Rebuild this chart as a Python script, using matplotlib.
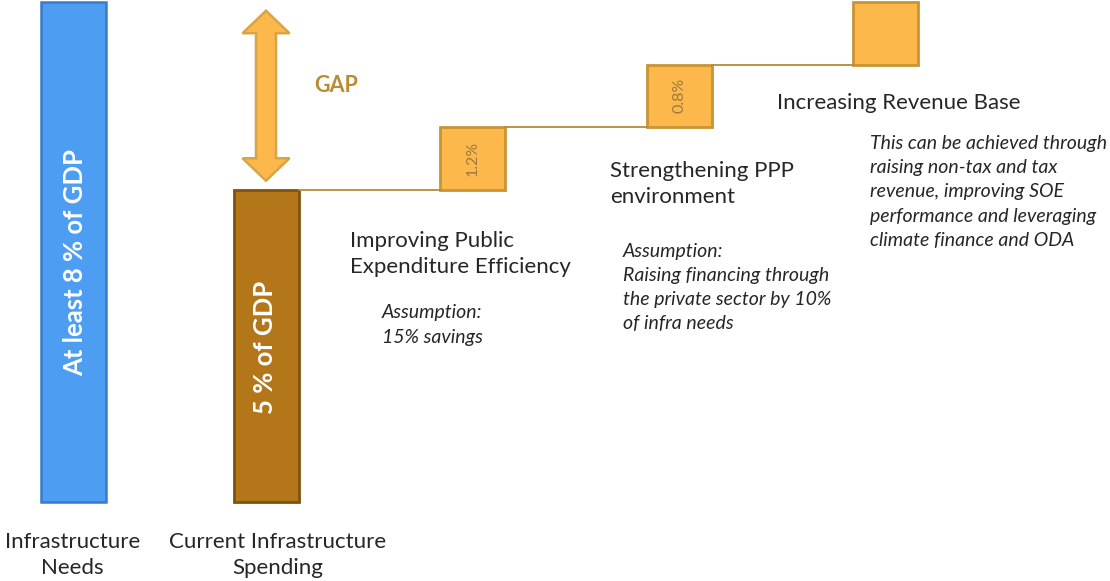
import matplotlib.pyplot as plt

# values in % of GDP
categories = ["Infrastructure\nNeeds", "Current Infrastructure\nSpending"]
base_values = [8.0, 5.0]
base_labels = ["At least 8 % of GDP", "5 % of GDP"]

step_names = ["Improving Public\nExpenditure Efficiency",
              "Strengthening PPP\nenvironment",
              "Increasing Revenue Base"]
step_heights = [1.0, 1.0, 1.0]          # drawn as equal blocks in the original
step_labels = ["1.2%", "0.8%", ""]
step_notes = ["Assumption:\n15% savings",
              "Assumption:\nRaising financing through\nthe private sector by 10%\nof infra needs",
              "This can be achieved through\nraising non-tax and tax\nrevenue, improving SOE\nperformance and leveraging\nclimate finance and ODA"]

plt.rcParams['font.family'] = ['Lato', 'DejaVu Sans']

fig = plt.figure(figsize=(11.1, 5.81), dpi=100)
ax = fig.add_axes([0, 0, 1, 1])
ax.set_xlim(0, 1110)
ax.set_ylim(-1.264, 8.032)
ax.axis('off')


def py(y):
    # pixel row -> value units
    return (502 - y) / 62.5


base_x = [73.5, 266]
bar_w = 65
ax.bar(base_x[0], base_values[0], width=bar_w, color='#4D9EF2', edgecolor='#3B7ACB', linewidth=1.8)
ax.bar(base_x[1], base_values[1], width=bar_w, color='#B3771A', edgecolor='#7E5210', linewidth=2)

ax.text(base_x[0] + 2, py(262), base_labels[0], rotation=90, ha='center', va='center',
        color='white', fontsize=18.5, fontweight='bold')
ax.text(base_x[1] - 1, py(347), base_labels[1], rotation=90, ha='center', va='center',
        color='white', fontsize=18.5, fontweight='bold')

for x, name in zip(base_x, categories):
    ax.text(x + (12 if x > 100 else -1), py(555), name, ha='center', va='center', fontsize=16,
            color='#262626', linespacing=1.4)

# steps
step_x = [472.5, 679.5, 885.5]
bottoms = []
level = base_values[1]
for h in step_heights:
    bottoms.append(level)
    level += h
ax.bar(step_x, step_heights, bottom=bottoms, width=bar_w, color='#FDB84C', edgecolor='#C99434', linewidth=2)
for x, b, h, lab in zip(step_x, bottoms, step_heights, step_labels):
    if lab:
        ax.text(x, b + h / 2, lab, rotation=90, ha='center', va='center', fontsize=11.5,
                color='#9C7A3A')

# connectors
prev_right = base_x[1] + bar_w / 2
for x, b, h in zip(step_x, bottoms, step_heights):
    ax.plot([prev_right, x - bar_w / 2], [b, b], color='#B48B3C', linewidth=1.3, zorder=1)
    prev_right = x + bar_w / 2

# gap arrow
gap_top = base_values[0] - 0.14
gap_bot = base_values[1] + 0.14
ax_x = base_x[1]
sw, hw, hl = 10, 23.5, 0.36
arrow_x = [ax_x, ax_x + hw, ax_x + sw, ax_x + sw, ax_x + hw, ax_x, ax_x - hw, ax_x - sw, ax_x - sw, ax_x - hw]
arrow_y = [gap_top, gap_top - hl, gap_top - hl, gap_bot + hl, gap_bot + hl, gap_bot, gap_bot + hl, gap_bot + hl,
           gap_top - hl, gap_top - hl]
ax.fill(arrow_x, arrow_y, facecolor='#FDB84C', edgecolor='#D9A444', linewidth=1.8, joinstyle='miter')
ax.text(314, py(86), "GAP", ha='left', va='center', fontsize=15.5, fontweight='bold', color='#BA8C30')

# step descriptions
name_pos = [(350, 254), (610, 184), (777, 103)]
note_pos = [(382, 325), (623, 287.5), (870, 192)]
for (nx, ny), name in zip(name_pos, step_names):
    ax.text(nx, py(ny), name, ha='left', va='center', fontsize=16, color='#262626', linespacing=1.35)
for (nx, ny), note in zip(note_pos, step_notes):
    ax.text(nx, py(ny), note, ha='left', va='center', fontsize=14, style='italic', color='#262626',
            linespacing=1.52, clip_on=True)

fig.savefig("out.png", dpi=100)
